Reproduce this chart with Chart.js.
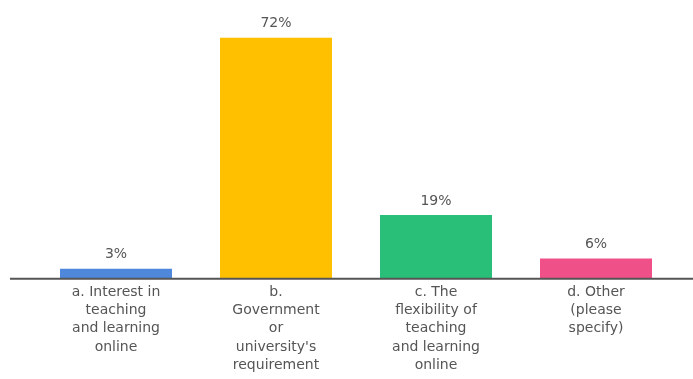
<!DOCTYPE html>
<html>
<head>
<meta charset="utf-8">
<script src="https://cdn.jsdelivr.net/npm/chart.js@4/dist/chart.umd.min.js"></script>
<style>
html,body{margin:0;padding:0;background:#fff;}
#wrap{width:693px;height:379px;position:relative;}
</style>
</head>
<body>
<div id="wrap"><canvas id="c"></canvas></div>
<script>
const categories = [
  ["a. Interest in","teaching","and learning","online"],
  ["b.","Government","or","university's","requirement"],
  ["c. The","flexibility of","teaching","and learning","online"],
  ["d. Other","(please","specify)"]
];
const values = [3, 72, 19, 6];
const valueLabels = ["3%", "72%", "19%", "6%"];
const barColors = ["#4F88DA", "#FFC000", "#2ABF79", "#EF5088"];

const textColor = "#555";
const fontFamily = "'DejaVu Sans', sans-serif";

const valueLabelPlugin = {
  id: "valueLabels",
  afterDatasetsDraw(chart) {
    const ctx = chart.ctx;
    const meta = chart.getDatasetMeta(0);
    ctx.save();
    ctx.fillStyle = textColor;
    ctx.font = "14px " + fontFamily;
    ctx.textAlign = "center";
    ctx.textBaseline = "bottom";
    meta.data.forEach((bar, i) => {
      ctx.fillText(valueLabels[i], bar.x, bar.y - 7);
    });
    ctx.restore();
  }
};

const baseLinePlugin = {
  id: "baseLine",
  afterDatasetsDraw(chart) {
    const ctx = chart.ctx;
    const y = chart.scales.y.getPixelForValue(0);
    ctx.save();
    ctx.strokeStyle = "#555";
    ctx.lineWidth = 2;
    ctx.beginPath();
    ctx.moveTo(10, y);
    ctx.lineTo(chart.width, y);
    ctx.stroke();
    ctx.restore();
  }
};

new Chart(document.getElementById("c"), {
  type: "bar",
  data: {
    labels: categories,
    datasets: [{
      data: values,
      backgroundColor: barColors,
      borderWidth: 0,
      barPercentage: 0.7,
      categoryPercentage: 1.0
    }]
  },
  options: {
    responsive: true,
    maintainAspectRatio: false,
    animation: false,
    layout: { padding: { top: 11, left: 36, right: 17, bottom: 0 } },
    plugins: { legend: { display: false }, tooltip: { enabled: false } },
    scales: {
      y: { display: false, min: 0, max: 80 },
      x: {
        grid: { display: false, drawTicks: false },
        border: { display: false },
        ticks: {
          color: textColor,
          padding: 5,
          maxRotation: 0,
          autoSkip: false,
          font: { family: fontFamily, size: 14, lineHeight: 1.29 }
        }
      }
    }
  },
  plugins: [valueLabelPlugin, baseLinePlugin]
});
</script>
</body>
</html>
